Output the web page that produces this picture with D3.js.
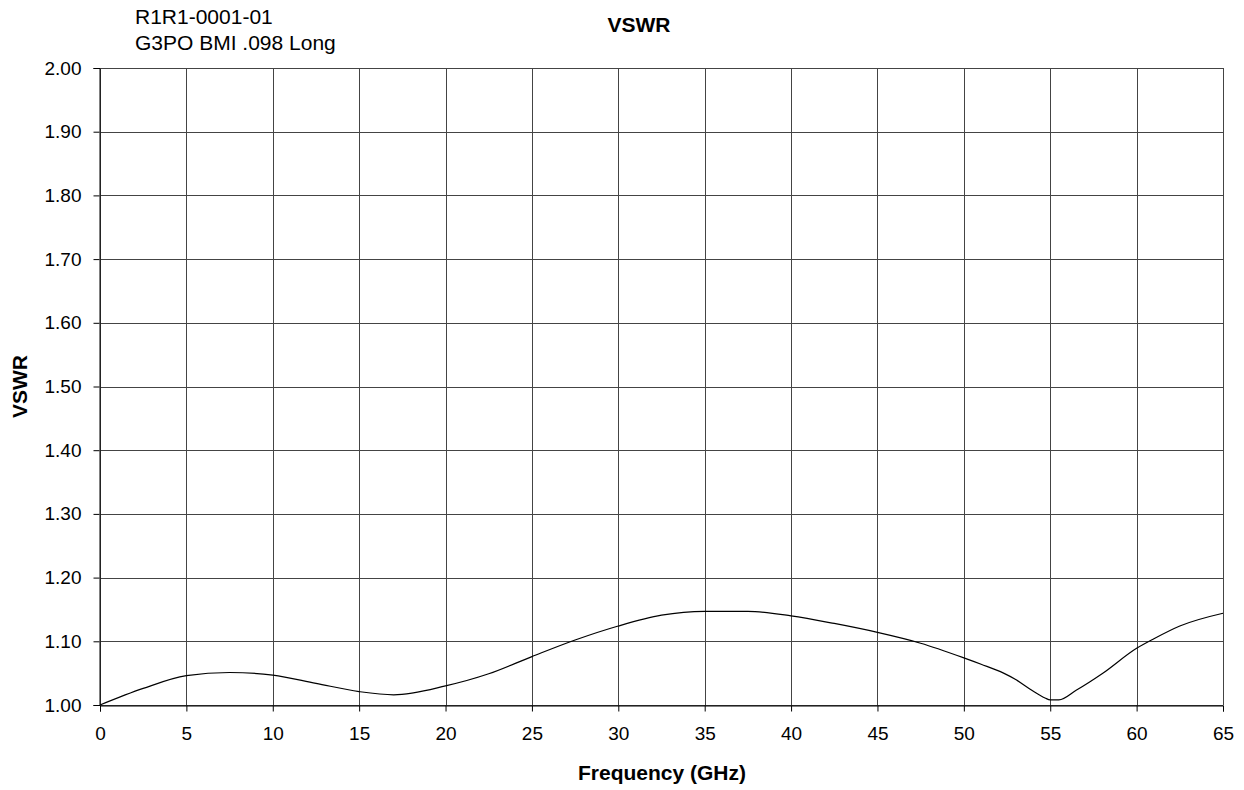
<!DOCTYPE html>
<html>
<head>
<meta charset="utf-8">
<script src="https://cdn.jsdelivr.net/npm/d3@7"></script>
<style>
  body { margin: 0; background: #fff; }
  text { font-family: "Liberation Sans", Arial, sans-serif; fill: #000; }
  .tick text { font-size: 19px; }
  .grid line { stroke: #444; stroke-width: 1; }
  .bold { font-weight: bold; }
</style>
</head>
<body>
<div id="chart"></div>
<script>
// data
var freq = [0, 2.5, 5, 7.5, 10, 12.5, 15, 17, 20, 22.5, 25, 27.5, 30, 32.5, 35, 37.5,
            40, 42.5, 45, 47.5, 50, 51, 52.3, 53, 54, 54.7, 55, 55.5, 56.5, 58, 60, 61, 62.5, 65];
var vswr = [1.000, 1.026, 1.046, 1.051, 1.047, 1.034, 1.021, 1.016, 1.030, 1.049, 1.076, 1.102,
            1.124, 1.141, 1.147, 1.147, 1.140, 1.128, 1.114, 1.097, 1.074, 1.064, 1.050, 1.040,
            1.022, 1.011, 1.008, 1.008, 1.023, 1.049, 1.089, 1.104, 1.124, 1.144];
var xTicks = d3.range(0, 66, 5);
var yTicks = d3.range(0, 11).map(function(i){ return 1 + i / 10; });

var w = 1244, h = 790;
var plotLeft = 100, plotRight = 1223, plotTop = 68, plotBottom = 705;

var svg = d3.select("#chart")
  .append("svg")
  .attr("width", w)
  .attr("height", h);

var x = d3.scaleLinear().domain([0, 65]).range([plotLeft, plotRight]);
var y = d3.scaleLinear().domain([1, 2]).range([plotBottom, plotTop]);

// grid
var grid = svg.append("g").attr("class", "grid");
grid.selectAll(".vg")
  .data(xTicks)
  .enter()
  .append("line")
  .attr("x1", function(d){ return Math.round(x(d)) + 0.5; })
  .attr("x2", function(d){ return Math.round(x(d)) + 0.5; })
  .attr("y1", plotTop)
  .attr("y2", plotBottom);
grid.selectAll(".hg")
  .data(yTicks)
  .enter()
  .append("line")
  .attr("y1", function(d){ return Math.round(y(d)) + 0.5; })
  .attr("y2", function(d){ return Math.round(y(d)) + 0.5; })
  .attr("x1", plotLeft)
  .attr("x2", plotRight);

// axes
var xAxis = d3.axisBottom(x)
  .tickValues(xTicks)
  .tickSize(6)
  .tickPadding(15)
  .tickFormat(d3.format("d"));
var yAxis = d3.axisLeft(y)
  .tickValues(yTicks)
  .tickSize(6)
  .tickPadding(12)
  .tickFormat(d3.format(".2f"));

svg.append("g")
  .attr("transform", "translate(0," + (plotBottom + 0.5) + ")")
  .call(xAxis)
  .call(function(g){ g.select(".domain").attr("stroke", "#000"); });

svg.append("g")
  .attr("transform", "translate(" + (plotLeft - 0.5) + ",0)")
  .call(yAxis)
  .call(function(g){ g.select(".domain").attr("stroke", "#000"); });

// VSWR line
var pts = freq.map(function(f, i){ return [f, vswr[i]]; });
var line = d3.line()
  .x(function(d){ return x(d[0]); })
  .y(function(d){ return y(d[1]); })
  .curve(d3.curveMonotoneX);

svg.append("path")
  .datum(pts)
  .attr("fill", "none")
  .attr("stroke", "#000")
  .attr("stroke-width", 1.2)
  .attr("d", line);

// titles
svg.append("text")
  .attr("class", "bold")
  .attr("x", 639)
  .attr("y", 32)
  .attr("text-anchor", "middle")
  .style("font-size", "21px")
  .text("VSWR");

svg.append("text")
  .attr("x", 135)
  .attr("y", 24)
  .style("font-size", "21px")
  .text("R1R1-0001-01");
svg.append("text")
  .attr("x", 135)
  .attr("y", 50)
  .style("font-size", "21px")
  .text("G3PO BMI .098 Long");

svg.append("text")
  .attr("class", "bold")
  .attr("x", 662)
  .attr("y", 780)
  .attr("text-anchor", "middle")
  .style("font-size", "21px")
  .text("Frequency (GHz)");

svg.append("text")
  .attr("class", "bold")
  .attr("transform", "translate(27," + ((plotTop + plotBottom) / 2) + ") rotate(-90)")
  .attr("text-anchor", "middle")
  .style("font-size", "21px")
  .text("VSWR");
</script>
</body>
</html>
